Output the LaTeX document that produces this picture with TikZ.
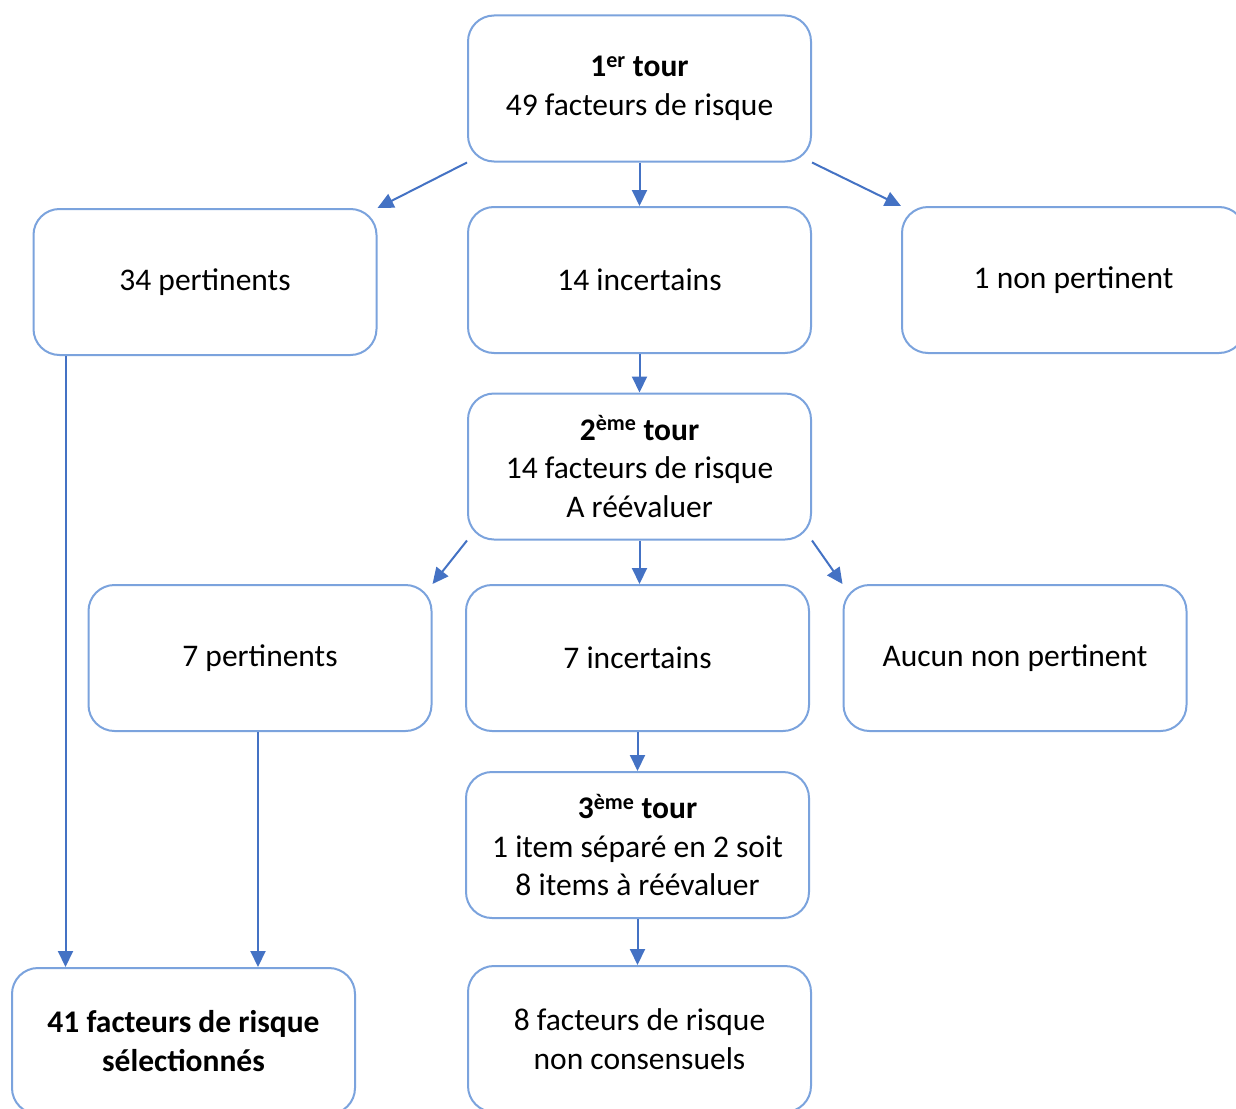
\documentclass[tikz,border=0pt]{standalone}
\usepackage{fontspec}
\setmainfont{Carlito}
\usetikzlibrary{arrows.meta}
\definecolor{boxblue}{HTML}{7BA3DD}
\definecolor{arrblue}{HTML}{4472C4}
\tikzset{
  box/.style={draw=boxblue, line width=2pt, rounded corners=26pt, fill=white,
    minimum width=343pt, minimum height=146pt, align=center, inner sep=0pt,
    font=\fontsize{31.5}{38.5}\selectfont, text=black},
  arr/.style={draw=arrblue, line width=2pt, -{Triangle[length=16pt,width=15pt]}}
}
\begin{document}
\begin{tikzpicture}[x=1pt,y=-1pt]
\useasboundingbox (0,0) rectangle (1236,1108);
\fill[white] (0,0) rectangle (1236,1108);
\node[box] (top) at (639.5,88.5) {\textbf{1\textsuperscript{er} tour}\\49 facteurs de risque};
\node[box] (p34) at (205,282) {34 pertinents};
\node[box] (i14) at (639.5,280) {14 incertains};
\node[box] (n1) at (1073.5,280) {1 non pertinent};
\node[box] (t2) at (639.5,466.5) {\textbf{2\textsuperscript{ème} tour}\\14 facteurs de risque\\A réévaluer};
\node[box] (p7) at (260,658) {7 pertinents};
\node[box] (i7) at (637.5,658) {7 incertains};
\node[box] (aucun) at (1015,658) {Aucun non pertinent};
\node[box] (t3) at (637.5,845) {\textbf{3\textsuperscript{ème} tour}\\1 item séparé en 2 soit\\8 items à réévaluer};
\node[box] (r41) at (183.5,1041) {\textbf{41 facteurs de risque}\\\textbf{sélectionnés}};
\node[box] (f8) at (639.5,1039) {8 facteurs de risque\\non consensuels};
\draw[arr] (top.south west) -- (p34.north east);
\draw[arr] (top.south) -- (i14.north);
\draw[arr] (top.south east) -- (n1.north west);
\draw[arr] (i14.south) -- (i14.south |- t2.north);
\draw[arr] (t2.south west) -- (p7.north east);
\draw[arr] (t2.south) -- (t2.south |- i7.north);
\draw[arr] (t2.south east) -- (aucun.north west);
\draw[arr] (i7.south) -- (i7.south |- t3.north);
\draw[arr] (t3.south) -- (t3.south |- f8.north);
\draw[arr] ([xshift=33pt]p34.south west) -- ([xshift=33pt]p34.south west |- r41.north);
\draw[arr] ([xshift=-2pt]p7.south) -- ([xshift=-2pt]p7.south |- r41.north);
\end{tikzpicture}
\end{document}
